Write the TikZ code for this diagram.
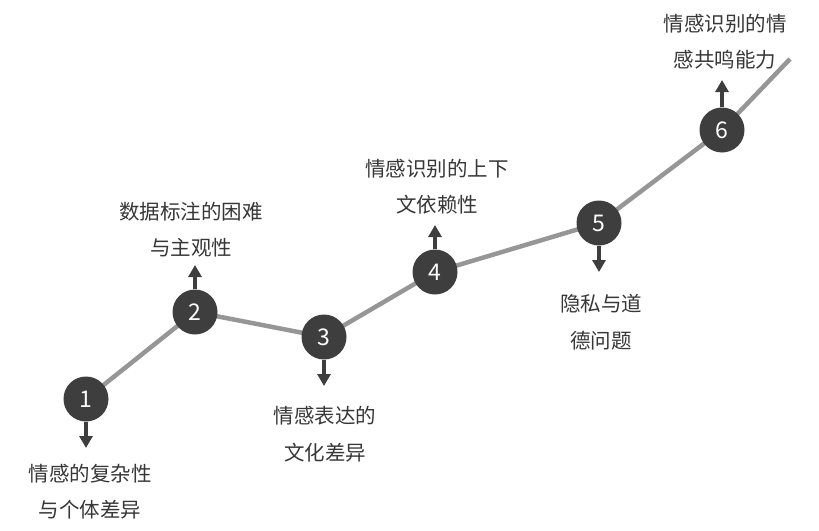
\documentclass[tikz,border=0pt]{standalone}
\usepackage{fontspec}
\setmainfont{Noto Sans CJK SC}
\usetikzlibrary{arrows.meta}
\definecolor{linegray}{RGB}{150,150,150}
\definecolor{dotgray}{RGB}{62,62,62}
\definecolor{textgray}{RGB}{55,55,55}
\tikzset{
  stepdot/.style={circle,fill=dotgray,minimum size=45pt,inner sep=0pt,
    text=white,font=\fontsize{23}{23}\selectfont},
  steplabel/.style={align=center,text=textgray,font=\fontsize{20.5}{36.5}\selectfont},
  steparrow/.style={draw=dotgray,line width=3.5pt,-{Triangle[width=13pt,length=12pt]}},
  pathline/.style={draw=linegray,line width=4.5pt}
}
\begin{document}
\begin{tikzpicture}[x=1pt,y=-1pt]
\useasboundingbox (0,0) rectangle (819,530);

%Steps
\coordinate (p1) at (86,399);
\coordinate (p2) at (195,312);
\coordinate (p3) at (324,337);
\coordinate (p4) at (435,272);
\coordinate (p5) at (599,223);
\coordinate (p6) at (722,130);
\coordinate (pend) at (790,59);

%Rising line
\draw[pathline] (p1) -- (p2) -- (p3) -- (p4) -- (p5) -- (p6) -- (pend);

\node [stepdot] (c1) at (p1) {1};
\node [stepdot] (c2) at (p2) {2};
\node [stepdot] (c3) at (p3) {3};
\node [stepdot] (c4) at (p4) {4};
\node [stepdot] (c5) at (p5) {5};
\node [stepdot] (c6) at (p6) {6};

%Arrow tips
\coordinate (t1) at (86,448);
\coordinate (t2) at (195,265);
\coordinate (t3) at (324,386);
\coordinate (t4) at (435,225);
\coordinate (t5) at (599,272);
\coordinate (t6) at (722,80);

\draw[steparrow] (c1) -- (t1);
\draw[steparrow] (c2) -- (t2);
\draw[steparrow] (c3) -- (t3);
\draw[steparrow] (c4) -- (t4);
\draw[steparrow] (c5) -- (t5);
\draw[steparrow] (c6) -- (t6);

%Labels
\node [steplabel] (l1) at (90,491.5) {情感的复杂性\\与个体差异};
\node [steplabel] (l2) at (191,229.5) {数据标注的困难\\与主观性};
\node [steplabel] (l3) at (325,434) {情感表达的\\文化差异};
\node [steplabel] (l4) at (437,186.5) {情感识别的上下\\文依赖性};
\node [steplabel] (l5) at (601,322) {隐私与道\\德问题};
\node [steplabel] (l6) at (725,41.5) {情感识别的情\\感共鸣能力};

\end{tikzpicture}
\end{document}
